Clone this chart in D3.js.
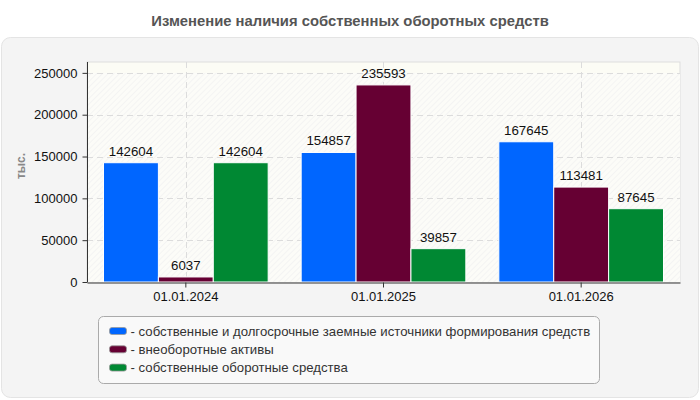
<!DOCTYPE html>
<html><head><meta charset="utf-8">
<script src="https://cdn.jsdelivr.net/npm/d3@7"></script>
<style>body{margin:0;background:#fff;}svg{display:block;font-family:Arial,"Liberation Sans",sans-serif;}</style>
</head><body>
<svg id="c" width="700" height="400"></svg>
<script>
const title = "Изменение наличия собственных оборотных средств";
const yTitle = "тыс.";
const categories = ["01.01.2024", "01.01.2025", "01.01.2026"];
const seriesNames = [
  "собственные и долгосрочные заемные источники формирования средств",
  "внеоборотные активы",
  "собственные оборотные средства"
];
const seriesColors = ["#0066ff", "#660033", "#008833"];
const sourcesValues = [142604, 154857, 167645];
const fixedAssetsValues = [6037, 235593, 113481];
const workingCapitalValues = [142604, 39857, 87645];
const yTicks = [0, 50000, 100000, 150000, 200000, 250000];

const seriesValues = [sourcesValues, fixedAssetsValues, workingCapitalValues];
const svg = d3.select("#c");
const defs = svg.append("defs");
const pat = defs.append("pattern").attr("id","hatch").attr("patternUnits","userSpaceOnUse")
  .attr("width",4).attr("height",4).attr("patternTransform","rotate(45)");
pat.append("rect").attr("width",4).attr("height",4).attr("fill","#fcfcf8");
pat.append("line").attr("x1",0).attr("y1",0).attr("x2",0).attr("y2",4).attr("stroke","#efefef").attr("stroke-width",1.1);

svg.append("text").attr("x",350).attr("y",26).attr("text-anchor","middle")
  .attr("font-size",14.8).attr("font-weight","bold").attr("fill","#555").text(title);

svg.append("rect").attr("x",1.5).attr("y",37.5).attr("width",697).attr("height",360).attr("rx",9)
  .attr("fill","#f4f4f4").attr("stroke","#e4e4e4");

const m = {l:87, r:680, t:62, b:282};
const x = d3.scaleBand().domain(categories).range([m.l, m.r]);
const y = d3.scaleLinear().domain([0, 263000]).range([m.b, m.t]);

svg.append("rect").attr("x",m.l).attr("y",m.t).attr("width",m.r-m.l).attr("height",m.b-m.t)
  .attr("fill","#fcfcf5").attr("stroke","#ddd");
svg.append("rect").attr("x",m.l).attr("y",y(250000)).attr("width",m.r-m.l).attr("height",m.b-y(250000))
  .attr("fill","url(#hatch)");

// grid
svg.append("g").selectAll("line").data(yTicks.slice(1)).join("line")
  .attr("x1",m.l).attr("x2",m.r).attr("y1",d=>Math.round(y(d))+0.5).attr("y2",d=>Math.round(y(d))+0.5)
  .attr("stroke","#dcdcdc").attr("stroke-dasharray","6,4");
svg.append("g").selectAll("line").data(categories).join("line")
  .attr("x1",d=>Math.round(x(d)+x.bandwidth()/2)+0.5).attr("x2",d=>Math.round(x(d)+x.bandwidth()/2)+0.5)
  .attr("y1",m.t).attr("y2",m.b).attr("stroke","#dcdcdc").attr("stroke-dasharray","6,4");

// bars
const pad = 16.5;
const xs = d3.scaleBand().domain(d3.range(3)).range([0, x.bandwidth()-2*pad]);
const gBars = svg.append("g");
categories.forEach((c,i)=>{
  seriesValues.forEach((vals,s)=>{
    const bx = x(c)+pad+xs(s);
    gBars.append("rect").attr("x",bx).attr("y",y(vals[i])).attr("width",xs.bandwidth())
      .attr("height",m.b-y(vals[i])).attr("fill",seriesColors[s]).attr("stroke","#fff").attr("stroke-width",1);
    gBars.append("text").attr("x",bx+xs.bandwidth()/2).attr("y",y(vals[i])-7)
      .attr("text-anchor","middle").attr("font-size",13.3).attr("fill","#111").text(vals[i]);
  });
});

// axes
const ya = svg.append("g").attr("transform",`translate(${m.l+0.5},0)`)
  .call(d3.axisLeft(y).tickValues(yTicks).tickFormat(d3.format("d")).tickSize(5).tickPadding(5).tickSizeOuter(0));
ya.select(".domain").attr("d",`M0,${m.t}V${m.b}`).attr("stroke","#333");
ya.selectAll(".tick line").attr("stroke","#333");
ya.selectAll("text").attr("font-size",13).attr("fill","#111").attr("font-family","Arial,'Liberation Sans',sans-serif");

const xa = svg.append("g").attr("transform",`translate(0,${m.b+0.5})`)
  .call(d3.axisBottom(x).tickSize(5).tickPadding(4).tickSizeOuter(0));
xa.select(".domain").attr("stroke","#333");
xa.selectAll(".tick line").attr("stroke","#333");
xa.selectAll("text").attr("font-size",13).attr("fill","#111").attr("font-family","Arial,'Liberation Sans',sans-serif");

svg.append("text").attr("transform","translate(25,166) rotate(-90)").attr("text-anchor","middle")
  .attr("font-size",12).attr("font-weight","bold").attr("fill","#888").text(yTitle);

// legend
const lg = svg.append("g");
lg.append("rect").attr("x",98.5).attr("y",316.5).attr("width",501).attr("height",67).attr("rx",5)
  .attr("fill","#f9f9f9").attr("stroke","#aaa");
seriesNames.forEach((n,i)=>{
  const cy = 331 + i*18.3;
  lg.append("rect").attr("x",109.5).attr("y",cy-3.5).attr("width",17).attr("height",7).attr("rx",2.5)
    .attr("fill",seriesColors[i]).attr("stroke","#999").attr("stroke-width",0.8);
  lg.append("text").attr("x",130.5).attr("y",cy+4.5).attr("font-size",13.2).attr("fill","#333").text("- "+n);
});
</script>
</body></html>
